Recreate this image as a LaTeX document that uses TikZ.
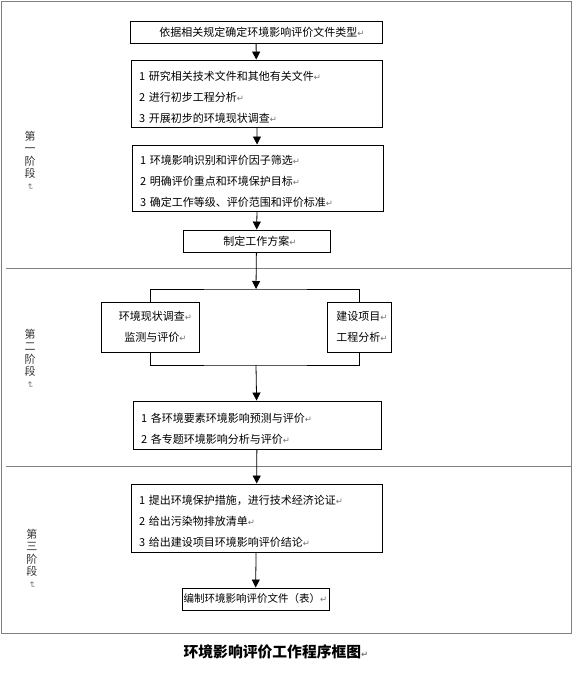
\documentclass[tikz,border=0pt]{standalone}
\usepackage{fontspec}
\setmainfont{Noto Sans CJK SC}
\newfontfamily\symfont{DejaVu Sans}
\usetikzlibrary{arrows.meta,positioning,calc}
\newcommand{\pmark}{{\symfont\fontsize{8.5}{8.5}\selectfont\textcolor{black!55}{↵}}}
\newcommand{\vstage}[1]{\smash{第}\\\smash{#1}\\\smash{阶}\\\smash{段}\\\smash{\rotatebox[origin=c]{-90}{\pmark}}}
\newcommand{\leadline}{\raisebox{0pt}[\dimexpr\height+8pt\relax]{\vphantom{研}}}
\tikzset{
  box/.style={draw=black, line width=0.9pt, align=center, inner sep=0pt, font=\fontsize{11}{21}\selectfont},
  listbox/.style={box, align=left, inner xsep=8pt, execute at begin node={\leadline}},
  arrow/.style={-{Triangle[length=8pt,width=8pt]}, line width=0.8pt},
  joint/.style={line width=0.8pt},
  frame/.style={draw=black!50, line width=1pt},
  phase/.style={align=center, inner sep=0pt, text=black!80, font=\fontsize{11}{12.5}\selectfont}
}

\begin{document}
\begin{tikzpicture}[x=1pt, y=-1pt]
\useasboundingbox (0,0) rectangle (572,678);
\draw[frame] (1,1) rectangle (571,633);
\draw[frame] (6,268) -- (571,268);
\draw[frame] (6,466) -- (571,466);

\node[phase] (p1) at (30,165) {\vstage{一}};
\node[phase] (p2) at (30,363) {\vstage{二}};
\node[phase] (p3) at (32,563) {\vstage{三}};

\node[box, minimum width=252pt, minimum height=22pt] (type) at (256,32) {\hspace*{12pt}依据相关规定确定环境影响评价文件类型\pmark};
\node[listbox, text width=235pt, minimum height=67pt] (study) at (256.5,93.5) {1 研究相关技术文件和其他有关文件\pmark\\2 进行初步工程分析\pmark\\3 开展初步的环境现状调查\pmark};
\node[listbox, text width=235pt, minimum height=66pt] (factor) at (257.5,178) {1 环境影响识别和评价因子筛选\pmark\\2 明确评价重点和环境保护目标\pmark\\3 确定工作等级、评价范围和评价标准\pmark};
\node[box, minimum width=147pt, minimum height=22pt] (plan) at (256.5,241) {\hspace*{7pt}制定工作方案\pmark};

\node[box, minimum width=98pt, minimum height=50pt] (survey) at (150.5,327) {\hspace*{10pt}环境现状调查\pmark\\\hspace*{10pt}监测与评价\pmark};
\node[box, minimum width=64pt, minimum height=50pt] (project) at (359.5,327) {\hspace*{5pt}建设项目\pmark\\\hspace*{5pt}工程分析\pmark};
\coordinate (split) at (256,289);
\coordinate (merge) at (256,365);

\node[listbox, text width=232pt, minimum height=48pt] (predict) at (257,425) {1 各环境要素环境影响预测与评价\pmark\\2 各专题环境影响分析与评价\pmark};
\node[listbox, text width=235pt, minimum height=68pt] (measure) at (256.5,518) {1 提出环境保护措施，进行技术经济论证\pmark\\2 给出污染物排放清单\pmark\\3 给出建设项目环境影响评价结论\pmark};
\node[box, minimum width=147pt, minimum height=22pt, font=\fontsize{10.5}{12}\selectfont] (report) at (255.5,599) {编制环境影响评价文件（表）\pmark};

\node[inner sep=0pt, font=\bfseries\fontsize{14.8}{16}\selectfont] (title) at (276,652) {环境影响评价工作程序框图\pmark};

\draw[arrow] (type) -- (study);
\draw[arrow] (study) -- (factor);
\draw[arrow] (factor) -- (plan);
\draw[arrow] (plan) -- (split);
\draw[joint] (survey.north) |- (split) -| (project.north);
\draw[joint] (survey.south) |- (merge) -| (project.south);
\draw[arrow] (merge) -- (predict);
\draw[arrow] (predict) -- (measure);
\draw[arrow] (measure) -- (report);
\end{tikzpicture}
\end{document}
